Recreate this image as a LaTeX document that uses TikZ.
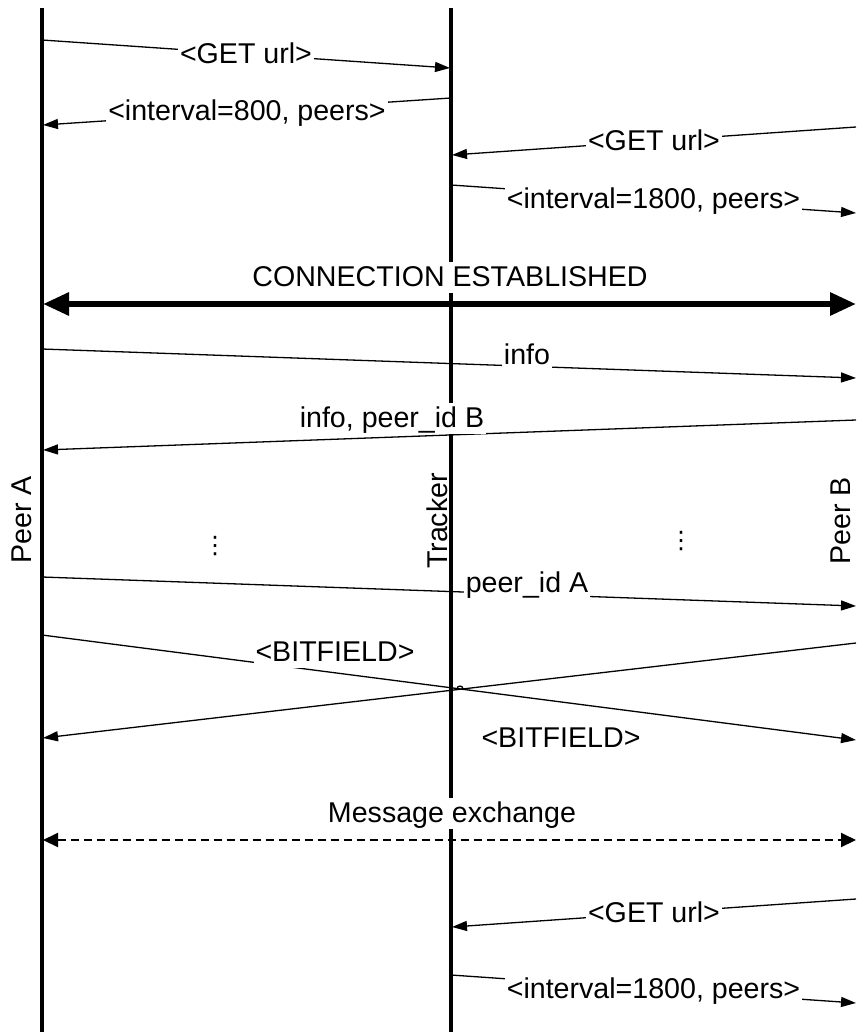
\documentclass[tikz,border=0pt]{standalone}
\usepackage{fontspec}
\setmainfont{Liberation Sans}
\newfontfamily\symfont{DejaVu Sans}
\usetikzlibrary{arrows.meta}
\begin{document}
\begin{tikzpicture}[x=0.5pt,y=-0.5pt,
  every node/.style={font=\fontsize{14.3}{17}\selectfont},
  lifeline/.style={line width=1.6pt},
  msg/.style={line width=0.65pt,-{Triangle[length=7.5pt,width=5pt]}},
  lbl/.style={fill=white,inner sep=1pt,text height=11.5pt,text depth=2pt},
  phase/.style={line width=3pt,{Triangle[length=13pt,width=11pt]}-{Triangle[length=13pt,width=11pt]}},
  phasedash/.style={line width=1pt,dash pattern=on 4pt off 2.5pt,{Triangle[length=7.5pt,width=7pt]}-{Triangle[length=7.5pt,width=7pt]}},
  actor/.style={rotate=90,inner sep=0pt},
  ellip/.style={inner sep=0pt,font=\symfont\fontsize{12}{12}\selectfont}]
\useasboundingbox (0,0) rectangle (856,1032);

% lifelines
\coordinate (Atop) at (42,8);   \coordinate (Abot) at (42,1032);
\coordinate (Ttop) at (451,8);  \coordinate (Tbot) at (451,1032);
\draw[lifeline] (Atop) -- (Abot);
\draw[lifeline] (Ttop) -- (Tbot);

% announce of peer A
\coordinate (a1) at (42,40);   \coordinate (t1) at (450,68);
\draw[msg] (a1) -- node[lbl] (l1) {<GET url>} (t1);
\coordinate (t2) at (451,98);  \coordinate (a2) at (43,125);
\draw[msg] (t2) -- node[lbl] (l2) {<interval=800, peers>} (a2);

% announce of peer B
\coordinate (b3) at (856,127); \coordinate (t3) at (452,155);
\draw[msg] (b3) -- node[lbl] (l3) {<GET url>} (t3);
\coordinate (t4) at (451,185); \coordinate (b4) at (856,213);
\draw[msg] (t4) -- node[lbl] (l4) {<interval=1800, peers>} (b4);

% connection
\coordinate (ca) at (43,304);  \coordinate (cb) at (856,304);
\draw[phase] (ca) -- (cb);
\node[lbl] (lconn) at (450,277) {CONNECTION ESTABLISHED};

% handshake
\coordinate (a5) at (42,349);  \coordinate (b5) at (856,378);
\draw[msg] (a5) -- (b5);
\node[lbl] (l5) at (527,355) {info};
\coordinate (b6) at (856,420); \coordinate (a6) at (43,450);
\draw[msg] (b6) -- (a6);
\node[lbl] (l6) at (392,418) {info, peer\_id B};

% actors
\node[actor] (peerA) at (22,520) {Peer A};
\node[actor] (tracker) at (437,521) {Tracker};
\node[actor] (peerB) at (841,521) {Peer B};
\node[ellip] (dotsA) at (215,546) {⋮};
\node[ellip] (dotsB) at (681,541) {⋮};

\coordinate (a7) at (42,577);  \coordinate (b7) at (856,606);
\draw[msg] (a7) -- (b7);
\node[lbl] (l7) at (527,583) {peer\_id A};

% bitfields
\coordinate (a8) at (42,635);  \coordinate (b8) at (856,740);
\draw[msg] (a8) -- (b8);
\coordinate (b9) at (856,643); \coordinate (a9) at (43,738);
\draw[msg] (b9) -- (a9);
\node[lbl] (l8) at (335,652) {<BITFIELD>};
\node[lbl] (l9) at (561,738) {<BITFIELD>};
\draw[line width=0.65pt] (457,689) arc[start angle=180,end angle=360,radius=3];

% message exchange
\coordinate (ea) at (43,840);  \coordinate (eb) at (856,840);
\draw[phasedash] (ea) -- (eb);
\node[lbl] (lex) at (452,813) {Message exchange};

% re-announce of peer B
\coordinate (b10) at (856,899); \coordinate (t10) at (452,927);
\draw[msg] (b10) -- node[lbl] (l10) {<GET url>} (t10);
\coordinate (t11) at (451,975); \coordinate (b11) at (856,1003);
\draw[msg] (t11) -- node[lbl] (l11) {<interval=1800, peers>} (b11);
\end{tikzpicture}
\end{document}
